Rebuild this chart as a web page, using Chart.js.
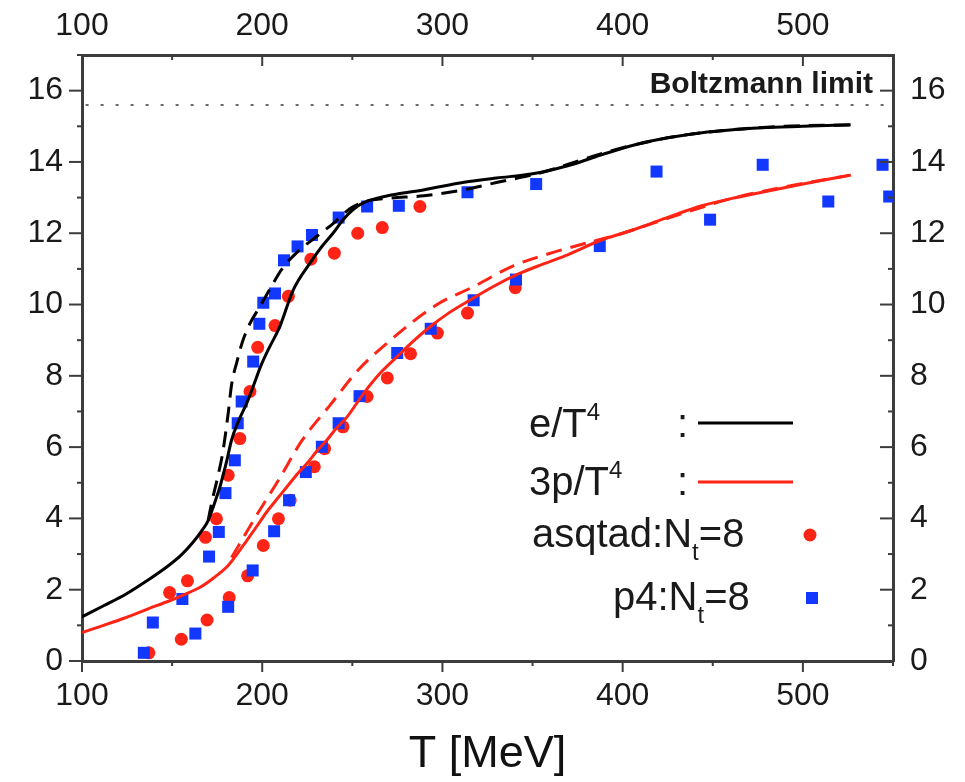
<!DOCTYPE html>
<html>
<head>
<meta charset="utf-8">
<title>e/T4 and 3p/T4</title>
<script src="https://cdn.jsdelivr.net/npm/chart.js@4/dist/chart.umd.min.js"></script>
<style>
  body { margin: 0; background: #fff; }
  #wrap { width: 965px; height: 782px; }
</style>
</head>
<body>
<div id="wrap"><canvas id="eos" width="965" height="782"></canvas></div>
<script>
// temperature axis [MeV] and y axis tick values
const xMajor = [100, 200, 300, 400, 500];
const xMinor = [150, 250, 350, 450, 550];
const yMajor = [0, 2, 4, 6, 8, 10, 12, 14, 16];
const yMinor = [1, 3, 5, 7, 9, 11, 13, 15, 17];
const boltzmann = 15.6;

// e/T^4, solid and dashed curves
const eSolidT = [100, 112, 124.5, 136, 146.8, 155, 161.6, 166, 170, 173, 176.5, 180, 183, 187, 191.4, 195, 199, 204, 209.5, 217.3, 226.6, 233, 239.6, 245.2, 250.8, 256.3, 265, 274.9, 290, 312, 330, 349.2, 370, 388.2, 412.3, 443.9, 477.3, 500, 526.5];
const eSolid = [1.24, 1.55, 1.88, 2.25, 2.63, 2.97, 3.33, 3.62, 3.94, 4.35, 4.88, 5.55, 6.2, 6.75, 7.23, 7.7, 8.25, 8.8, 9.35, 10.42, 11.17, 11.62, 12.02, 12.4, 12.68, 12.86, 13.0, 13.1, 13.22, 13.43, 13.55, 13.66, 13.9, 14.2, 14.55, 14.82, 14.96, 15.0, 15.04];
const eDashT = [170, 172, 175, 178, 181, 183, 186, 189, 193, 198.8, 205, 211, 220, 230, 240, 249, 258, 270, 289.7, 310, 330.6, 355, 378.7, 400, 430, 460, 490, 526.5];
const eDash = [3.94, 4.45, 5.1, 5.82, 6.9, 7.75, 8.4, 8.95, 9.45, 9.95, 10.5, 11.0, 11.5, 11.9, 12.3, 12.7, 12.9, 12.98, 13.05, 13.2, 13.43, 13.7, 14.08, 14.4, 14.72, 14.9, 15.0, 15.04];

// 3p/T^4, solid and dashed curves
const pSolidT = [100, 112, 124.5, 136, 148.6, 157, 165.3, 173, 181.1, 186, 191.4, 197, 202.5, 208, 213.6, 219, 224.8, 230, 235.9, 241, 247.1, 256.3, 265, 274.9, 284, 293.5, 304, 315.8, 328, 341.8, 355, 367.7, 388.2, 401.2, 412.3, 428, 443.9, 460, 477.3, 500, 526.5];
const pSolid = [0.8, 1.0, 1.22, 1.45, 1.69, 1.87, 2.06, 2.33, 2.68, 3.0, 3.38, 3.78, 4.18, 4.53, 4.88, 5.22, 5.54, 5.87, 6.2, 6.52, 6.85, 7.51, 8.05, 8.54, 8.98, 9.39, 9.78, 10.14, 10.5, 10.85, 11.12, 11.36, 11.81, 12.02, 12.21, 12.5, 12.77, 12.97, 13.15, 13.38, 13.63];
const pDashT = [183, 197, 209, 222, 238, 253, 270, 297, 318, 339, 358, 381, 400, 430, 460, 490, 526.5];
const pDash = [2.9, 4.1, 5.07, 6.18, 7.2, 8.15, 8.95, 10.0, 10.52, 11.08, 11.41, 11.74, 12.0, 12.5, 12.97, 13.3, 13.63];

// asqtad Nt=8 lattice points
const asqEnergyT = [148.6, 158.5, 168.5, 174.6, 181.1, 187.6, 193.2, 197.5, 207.1, 214.5, 227, 240, 253, 266.6, 287.5];
const asqEnergy = [1.92, 2.25, 3.47, 3.99, 5.21, 6.24, 7.56, 8.8, 9.41, 10.23, 11.27, 11.44, 12.0, 12.16, 12.75];
const asqPressT = [137.1, 155.1, 169.4, 181.7, 191.9, 200.6, 209, 215.5, 228.9, 234.6, 244.8, 258.2, 269.4, 282.3, 297.2, 313.9, 340.4];
const asqPress = [0.23, 0.61, 1.15, 1.78, 2.39, 3.24, 3.99, 4.51, 5.45, 5.96, 6.57, 7.42, 7.94, 8.62, 9.2, 9.76, 10.47];

// p4 Nt=8 lattice points
const p4EnergyT = [139.3, 155.7, 170.5, 175.9, 179.6, 184.8, 186.4, 188.6, 195, 198.4, 200.6, 207.1, 212.1, 219.6, 227.6, 242.4, 258.2, 275.8, 313.9, 352, 418.8, 477.7, 544.2];
const p4Energy = [1.08, 1.74, 2.93, 3.62, 4.71, 5.63, 6.67, 7.28, 8.4, 9.46, 10.05, 10.31, 11.24, 11.63, 11.95, 12.44, 12.75, 12.77, 13.15, 13.38, 13.73, 13.92, 13.92];
const p4PressT = [134.3, 162.9, 181.1, 194.7, 206.6, 214.9, 224.2, 233.1, 242.4, 254, 274.9, 293.5, 317.3, 340.8, 387.3, 448.5, 514.1, 547.9];
const p4Press = [0.23, 0.77, 1.52, 2.54, 3.64, 4.51, 5.3, 6.01, 6.67, 7.43, 8.64, 9.32, 10.12, 10.7, 11.64, 12.38, 12.89, 13.03];

const RED = '#ff2415';
const BLUE = '#1238ff';
const BLACK = '#000000';
const AXIS = '#3c3c3c';
const FONT = "'Liberation Sans', Arial, sans-serif";

function pts(xs, ys) {
    return xs.map((x, i) => ({ x: x, y: ys[i] }));
}

function curve(xs, ys, color, dash) {
    return {
        type: 'line', data: pts(xs, ys), borderColor: color, borderWidth: 3,
        borderDash: dash || [], pointRadius: 0, fill: false,
        cubicInterpolationMode: 'monotone'
    };
}

function marks(xs, ys, color, style, r) {
    return {
        type: 'scatter', data: pts(xs, ys), pointStyle: style, pointRadius: r,
        backgroundColor: color, borderColor: color, borderWidth: 0
    };
}

// tick marks: left/bottom point out, top/right point in
const frameTicks = {
    id: 'frameTicks',
    afterDraw(chart) {
        const { ctx, chartArea: a, scales } = chart;
        ctx.save();
        ctx.strokeStyle = AXIS;
        ctx.lineWidth = 2;
        const line = (x1, y1, x2, y2) => {
            ctx.beginPath(); ctx.moveTo(x1, y1); ctx.lineTo(x2, y2); ctx.stroke();
        };
        xMajor.concat(xMinor).forEach(v => {
            const len = xMajor.includes(v) ? 11 : 5;
            const px = scales.x.getPixelForValue(v);
            line(px, a.bottom, px, a.bottom + len);
            line(px, a.top, px, a.top + len);
        });
        yMajor.concat(yMinor).forEach(v => {
            const len = yMajor.includes(v) ? 13 : 5;
            const py = scales.y.getPixelForValue(v);
            line(a.left - len, py, a.left, py);
            line(a.right - len, py, a.right, py);
        });
        ctx.restore();
    }
};

// legend with super/subscripts, plus the Boltzmann label
const keyBox = {
    id: 'keyBox',
    afterDatasetsDraw(chart) {
        const ctx = chart.ctx;
        ctx.save();
        ctx.fillStyle = '#1a1a1a';
        ctx.textBaseline = 'alphabetic';
        ctx.textAlign = 'left';

        const big = '40px ' + FONT;
        const small = '24px ' + FONT;
        const write = (parts, x, y) => {
            parts.forEach(p => {
                ctx.font = p.f;
                ctx.fillText(p.t, x, y + (p.dy || 0));
                x += ctx.measureText(p.t).width;
            });
        };

        write([{ t: 'e/T', f: big }, { t: '4', f: small, dy: -17 }], 529, 437);
        write([{ t: '3p/T', f: big }, { t: '4', f: small, dy: -17 }], 529, 495);
        write([{ t: 'asqtad:N', f: big }, { t: 't', f: small, dy: 13 }, { t: '=8', f: big }], 532, 547);
        write([{ t: 'p4:N', f: big }, { t: 't', f: small, dy: 13 }, { t: '=8', f: big }], 613, 610);

        ctx.font = big;
        ctx.fillText(':', 677, 437);
        ctx.fillText(':', 677, 495);

        ctx.lineWidth = 3;
        ctx.strokeStyle = BLACK;
        ctx.beginPath(); ctx.moveTo(698, 423); ctx.lineTo(793, 423); ctx.stroke();
        ctx.strokeStyle = RED;
        ctx.beginPath(); ctx.moveTo(698, 482); ctx.lineTo(793, 482); ctx.stroke();

        ctx.fillStyle = RED;
        ctx.beginPath(); ctx.arc(810, 535, 6.5, 0, Math.PI * 2); ctx.fill();
        ctx.fillStyle = BLUE;
        ctx.fillRect(806, 592, 12, 12);

        ctx.fillStyle = '#1a1a1a';
        ctx.font = 'bold 30px ' + FONT;
        ctx.textAlign = 'right';
        ctx.fillText('Boltzmann limit', 873, 93);
        ctx.restore();
    }
};

const tickFont = { family: FONT, size: 32 };
const noGrid = { display: false, drawTicks: false, tickLength: 0 };
const frame = { display: true, color: AXIS, width: 3 };

new Chart(document.getElementById('eos'), {
    data: {
        datasets: [
            curve(eSolidT, eSolid, BLACK),
            curve(eDashT, eDash, BLACK, [16, 9]),
            curve(pSolidT, pSolid, RED),
            curve(pDashT, pDash, RED, [16, 9]),
            marks(p4EnergyT, p4Energy, BLUE, 'rect', 8.5),
            marks(p4PressT, p4Press, BLUE, 'rect', 8.5),
            marks(asqEnergyT, asqEnergy, RED, 'circle', 6.5),
            marks(asqPressT, asqPress, RED, 'circle', 6.5),
            {
                type: 'line', data: [{ x: 102, y: boltzmann }, { x: 545, y: boltzmann }],
                borderColor: '#6a6a6a', borderWidth: 2, borderDash: [3, 12], pointRadius: 0
            }
        ]
    },
    options: {
        responsive: false,
        animation: false,
        layout: { padding: 0 },
        plugins: { legend: { display: false }, tooltip: { enabled: false } },
        scales: {
            x: {
                type: 'linear', position: 'bottom', min: 100, max: 550,
                afterFit: s => { s.height = 121; },
                ticks: { stepSize: 100, includeBounds: false, padding: 16, font: tickFont, color: '#1a1a1a', maxRotation: 0 },
                grid: noGrid, border: frame,
                title: { display: true, text: 'T [MeV]', font: { family: FONT, size: 45 }, color: '#111', padding: { top: 0, bottom: 0 } }
            },
            x2: {
                type: 'linear', position: 'top', min: 100, max: 550,
                afterFit: s => { s.height = 55; },
                ticks: { stepSize: 100, includeBounds: false, padding: 10, font: tickFont, color: '#1a1a1a', maxRotation: 0 },
                grid: noGrid, border: frame
            },
            y: {
                type: 'linear', position: 'left', min: 0, max: 17,
                afterFit: s => { s.width = 82; },
                ticks: { stepSize: 2, includeBounds: false, padding: 19, font: tickFont, color: '#1a1a1a' },
                grid: noGrid, border: frame
            },
            y2: {
                type: 'linear', position: 'right', min: 0, max: 17,
                afterFit: s => { s.width = 72; },
                ticks: { stepSize: 2, includeBounds: false, padding: 17, font: tickFont, color: '#1a1a1a' },
                grid: noGrid, border: frame
            }
        }
    },
    plugins: [frameTicks, keyBox]
});
</script>
</body>
</html>
